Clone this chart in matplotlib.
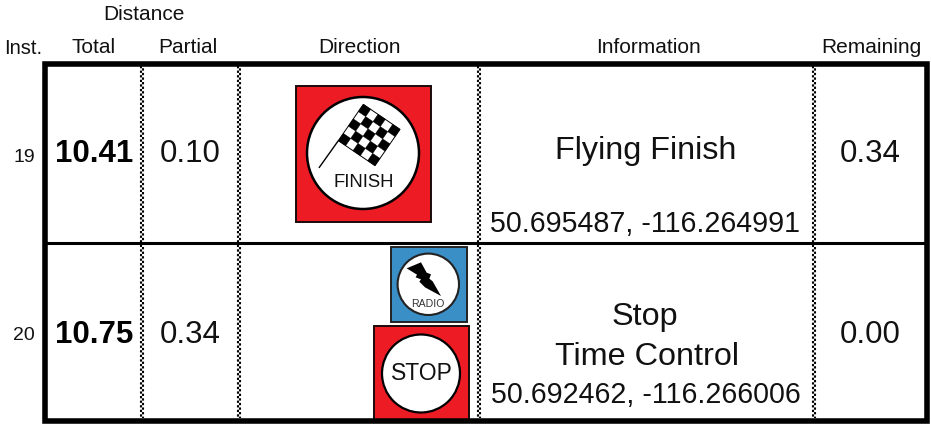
import matplotlib
matplotlib.use("Agg")
import matplotlib.pyplot as plt
import numpy as np
from matplotlib.patches import Rectangle, Circle, Polygon

plt.rcParams['font.family'] = ['Liberation Sans', 'DejaVu Sans']

instructions = ["19", "20"]
totals = ["10.41", "10.75"]
partials = ["0.10", "0.34"]
remaining = ["0.34", "0.00"]
info_lines = [["Flying Finish"], ["Stop", "Time Control"]]
coords = ["50.695487, -116.264991", "50.692462, -116.266006"]
headers = ["Total", "Partial", "Direction", "Information", "Remaining"]

RED = "#ed1c24"
BLUE = "#3a8fc7"
TXT = "#111111"

fig = plt.figure(figsize=(9.31, 4.24), dpi=100)
ax = fig.add_axes([0, 0, 1, 1])
ax.set_xlim(0, 931)
ax.set_ylim(424, 0)
ax.axis("off")

# header
ax.text(144, 15, "Distance", ha="center", va="center", fontsize=15, color=TXT)
ax.text(23, 48, "Inst.", ha="center", va="center", fontsize=14.5, color=TXT)
for x, s in zip([94, 188, 359, 648, 871], headers):
    ax.text(x, 47.5, s, ha="center", va="center", fontsize=15, color=TXT)

# rows
row_y = [154, 335]
inst_y = [157, 335]
for i, y in enumerate(row_y):
    ax.text(24, inst_y[i], instructions[i], ha="center", va="center", fontsize=14, color=TXT)
    ax.text(94.5, y, totals[i], ha="center", va="center", fontsize=22.5, fontweight="bold", color="black")
    ax.text(190, y, partials[i], ha="center", va="center", fontsize=22.5, color=TXT)
    ax.text(870.5, y, remaining[i], ha="center", va="center", fontsize=22.5, color=TXT)

ax.text(645.5, 151, info_lines[0][0], ha="center", va="center", fontsize=23.3, color=TXT)
ax.text(645, 317, info_lines[1][0], ha="center", va="center", fontsize=23.3, color=TXT)
ax.text(647, 357, info_lines[1][1], ha="center", va="center", fontsize=23.3, color=TXT)
ax.text(645, 224, coords[0], ha="center", va="center", fontsize=20.6, color=TXT)
ax.text(646, 395, coords[1], ha="center", va="center", fontsize=20.6, color=TXT)

# grid: checker-like dotted rules
for x in [142, 238.5, 478.5, 814]:
    ax.plot([x - 1, x - 1], [66, 418], color="black", lw=1.5, ls=(0, (1.1, 1.1)), zorder=2)
    ax.plot([x + 1, x + 1], [66, 418], color="black", lw=1.5, ls=(1.1, (1.1, 1.1)), zorder=2)
ax.plot([45, 927], [243, 243], color="black", lw=2.2, zorder=2)
ax.add_patch(Rectangle((45, 64), 881.7, 357, fill=False, ec="black", lw=4, zorder=5))

# finish icon
def pt(x, y):
    return (280 + x / 3, 70 + y / 3)

ax.add_patch(Rectangle((295.5, 86), 135, 135.5, fc=RED, ec="#1a0a0a", lw=1.4, zorder=3))
ax.add_patch(Circle((363, 153), 56, fc="white", ec="black", lw=1.8, zorder=3))
c = [np.array(pt(*p)) for p in [(175, 212), (250, 103), (360, 178), (285, 287)]]
nu, nv = 5, 5
def q(u, v):
    return (1 - u) * ((1 - v) * c[0] + v * c[1]) + u * ((1 - v) * c[3] + v * c[2])
for a in range(nu):
    for b in range(nv):
        if (a + b) % 2 == 0:
            ax.add_patch(Polygon([q(a / nu, b / nv), q((a + 1) / nu, b / nv),
                                  q((a + 1) / nu, (b + 1) / nv), q(a / nu, (b + 1) / nv)],
                                 fc="black", ec="black", lw=0.3, zorder=4))
ax.add_patch(Polygon(c, fill=False, ec="black", lw=0.7, zorder=4))
p0 = pt(175, 212); p1 = pt(118, 292)
ax.plot([p0[0], p1[0]], [p0[1], p1[1]], color="black", lw=1.0, zorder=4)
ax.text(363.3, 182.5, "FINISH", ha="center", va="center", fontsize=13.3, color=TXT, zorder=4)

# radio icon
ax.add_patch(Rectangle((391, 247), 75.5, 75, fc=BLUE, ec="#222222", lw=1.4, zorder=3))
ax.add_patch(Circle((428.3, 284.3), 30.7, fc="white", ec="#222222", lw=1.5, zorder=3))
bolt = [(65, 85), (108, 67), (125, 98), (138, 103), (133, 116), (143, 124), (168, 168),
        (120, 142), (103, 125), (108, 118), (92, 112), (96, 104)]
ax.add_patch(Polygon([(385 + x / 3, 240 + y / 3) for x, y in bolt], fc="black", ec="none", zorder=4))
ax.text(428, 304, "RADIO", ha="center", va="center", fontsize=7.6, color="#333333", zorder=4)

# stop icon
ax.add_patch(Rectangle((373.5, 326), 95, 95, fc=RED, ec="#1a0a0a", lw=1.4, zorder=3))
ax.add_patch(Circle((421, 373.5), 39, fc="white", ec="black", lw=1.6, zorder=3))
ax.text(421.5, 374, "STOP", ha="center", va="center", fontsize=16.5, color=TXT, zorder=4)

fig.savefig("out.png", dpi=100)
